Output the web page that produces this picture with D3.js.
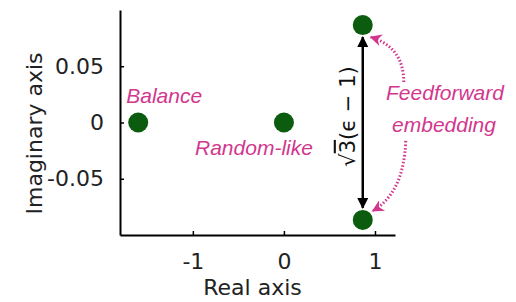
<!DOCTYPE html>
<html>
<head>
<meta charset="utf-8">
<script src="https://cdn.jsdelivr.net/npm/d3@7"></script>
<style>
  body { margin: 0; background: #fff; }
  svg text { font-family: "DejaVu Sans", Verdana, sans-serif; }
  .note { font-family: "Liberation Sans", Arial, sans-serif !important; font-style: italic; fill: #d2378e; }
</style>
</head>
<body>
<div id="chart"></div>
<script>
const width = 516;
const height = 302;
const margin = {top: 10, right: 121, bottom: 67, left: 120};

// eigenvalues (real, imaginary)
const pointNames = ['Balance', 'Random-like', 'Feedforward +', 'Feedforward -'];
const realParts = [-1.6, 0, 0.866, 0.866];
const imagParts = [0, 0, 0.0866, -0.0866];

const xTicks = [-1, 0, 1];
const xTickLabels = ['-1', '0', '1'];
const yTicks = [-0.05, 0, 0.05];
const yTickLabels = ['-0.05', '0', '0.05'];

const green = '#0b5c0e';
const pink = '#d2378e';

const svg = d3.select('#chart')
  .append('svg')
  .attr('width', width)
  .attr('height', height);

const x = d3.scaleLinear()
  .domain([-1.8, 1.22])
  .range([margin.left, width - margin.right]);

const y = d3.scaleLinear()
  .domain([-0.1, 0.1])
  .range([height - margin.bottom, margin.top]);

// arrow markers
const defs = svg.append('defs');
defs.append('marker')
  .attr('id', 'head-black')
  .attr('viewBox', '0 0 10 10')
  .attr('refX', 9).attr('refY', 5)
  .attr('markerUnits', 'userSpaceOnUse')
  .attr('markerWidth', 13).attr('markerHeight', 11)
  .attr('orient', 'auto-start-reverse')
  .append('path')
  .attr('d', 'M0,0 L10,5 L0,10 Z')
  .attr('fill', '#000');
defs.append('marker')
  .attr('id', 'head-pink')
  .attr('viewBox', '0 0 10 10')
  .attr('refX', 9).attr('refY', 5)
  .attr('markerUnits', 'userSpaceOnUse')
  .attr('markerWidth', 15).attr('markerHeight', 12)
  .attr('orient', 'auto')
  .append('path')
  .attr('d', 'M0,0 L10,5 L0,10 L3,5 Z')
  .attr('fill', pink);

// x axis
const xAxis = svg.append('g')
  .attr('transform', 'translate(0,' + y.range()[0] + ')')
  .call(d3.axisBottom(x).tickValues(xTicks).tickSizeInner(-4).tickSizeOuter(0).tickPadding(18)
    .tickFormat((d, i) => xTickLabels[i]));
xAxis.select('.domain').attr('stroke-width', 2);
xAxis.selectAll('.tick line').attr('stroke-width', 1.5);
xAxis.selectAll('text').attr('font-size', 22).attr('fill', '#222')
  .attr('font-family', '"DejaVu Sans", sans-serif');

// y axis
const yAxis = svg.append('g')
  .attr('transform', 'translate(' + x.range()[0] + ',0)')
  .call(d3.axisLeft(y).tickValues(yTicks).tickSizeInner(-4).tickSizeOuter(0).tickPadding(16)
    .tickFormat((d, i) => yTickLabels[i]));
yAxis.select('.domain').attr('stroke-width', 2);
yAxis.selectAll('.tick line').attr('stroke-width', 1.5);
yAxis.selectAll('text').attr('font-size', 22).attr('fill', '#222')
  .attr('font-family', '"DejaVu Sans", sans-serif');

// axis titles
svg.append('text')
  .attr('x', (x.range()[0] + x.range()[1]) / 2 - 5)
  .attr('y', 295)
  .attr('text-anchor', 'middle')
  .attr('font-size', 22)
  .attr('fill', '#222')
  .text('Real axis');

svg.append('text')
  .attr('transform', 'translate(42,' + (y(0) + 11) + ') rotate(-90)')
  .attr('text-anchor', 'middle')
  .attr('font-size', 22)
  .attr('fill', '#222')
  .text('Imaginary axis');

// double arrow between the complex pair
const r = 10;
svg.append('line')
  .attr('x1', x(realParts[2])).attr('x2', x(realParts[3]))
  .attr('y1', y(imagParts[2]) + r + 2).attr('y2', y(imagParts[3]) - r - 2)
  .attr('stroke', '#000')
  .attr('stroke-width', 2.5)
  .attr('marker-start', 'url(#head-black)')
  .attr('marker-end', 'url(#head-black)');

// sqrt(3)(eps - 1) label
const mathLabel = svg.append('text')
  .attr('transform', 'translate(' + (x(realParts[2]) - 8) + ',' + (y(0) - 6) + ') rotate(-90)')
  .attr('text-anchor', 'middle')
  .attr('font-size', 21)
  .attr('font-family', '"DejaVu Sans", sans-serif')
  .attr('fill', '#111');
mathLabel.append('tspan').text('\u221A');
mathLabel.append('tspan').attr('text-decoration', 'overline').text('3');
mathLabel.append('tspan').text('(\u03F5 \u2212 1)');

// dotted annotation arrows
const ux = x(realParts[2]), uy = y(imagParts[2]);
const lx = x(realParts[3]), ly = y(imagParts[3]);
svg.append('path')
  .attr('d', 'M' + (ux + 41) + ',' + (uy + 57) + ' Q' + (ux + 41) + ',' + (uy + 22) + ' ' + (ux + 8) + ',' + (uy + 12))
  .attr('fill', 'none')
  .attr('stroke', pink)
  .attr('stroke-width', 3)
  .attr('stroke-dasharray', '1.5,2')
  .attr('marker-end', 'url(#head-pink)');
svg.append('path')
  .attr('d', 'M' + (lx + 43) + ',' + (ly - 79) + ' Q' + (lx + 41) + ',' + (ly - 27) + ' ' + (lx + 10) + ',' + (ly - 9))
  .attr('fill', 'none')
  .attr('stroke', pink)
  .attr('stroke-width', 3)
  .attr('stroke-dasharray', '1.5,2')
  .attr('marker-end', 'url(#head-pink)');

// eigenvalue points
svg.selectAll('circle.eig')
  .data(pointNames)
  .join('circle')
  .attr('class', 'eig')
  .attr('cx', (d, i) => x(realParts[i]))
  .attr('cy', (d, i) => y(imagParts[i]))
  .attr('r', r)
  .attr('fill', green);

// annotations
svg.append('text').attr('class', 'note')
  .attr('x', x(realParts[0]) - 12).attr('y', y(imagParts[0]) - 20)
  .attr('font-size', 21)
  .text('Balance');
svg.append('text').attr('class', 'note')
  .attr('x', x(realParts[1]) + 29).attr('y', y(imagParts[1]) + 32)
  .attr('text-anchor', 'end')
  .attr('font-size', 21)
  .text('Random-like');
svg.append('text').attr('class', 'note')
  .attr('x', 445).attr('y', 100)
  .attr('text-anchor', 'middle')
  .attr('font-size', 21)
  .text('Feedforward');
svg.append('text').attr('class', 'note')
  .attr('x', 444).attr('y', 132)
  .attr('text-anchor', 'middle')
  .attr('font-size', 21)
  .text('embedding');
</script>
</body>
</html>
